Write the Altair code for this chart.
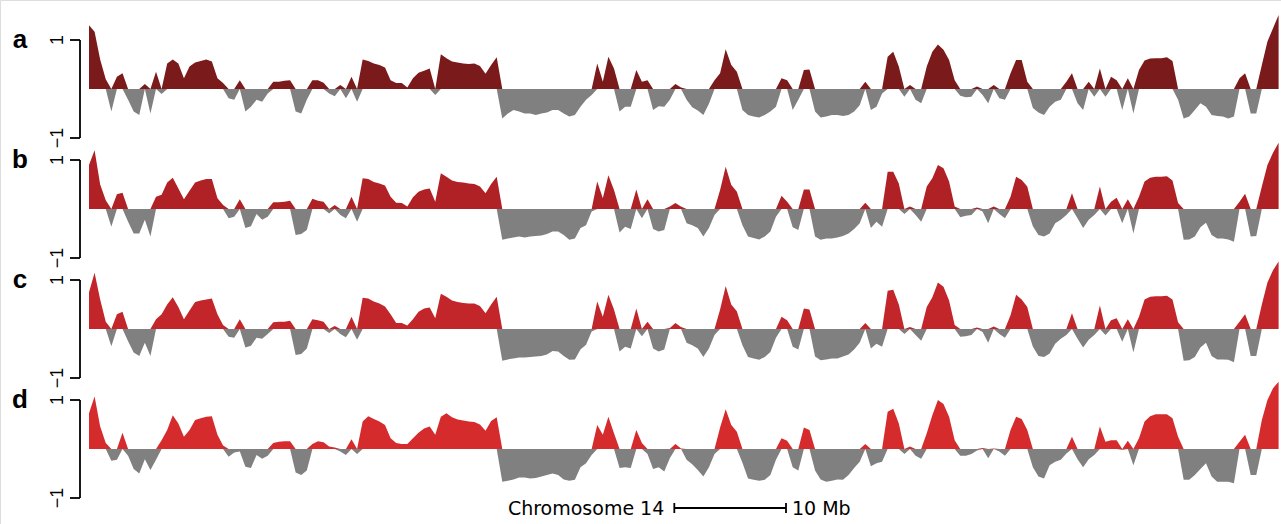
import altair as alt
import pandas as pd

# Genomic bins along chromosome 14 (0.5 Mb apart)
pos_mb = [round(0.5 * i, 1) for i in range(214)]

track_names = ["a", "b", "c", "d"]
track_colors = ["#7b1a1b", "#b02125", "#c2262a", "#d52b2d"]
below_color = "#808080"

vals_a = [
    1.3, 1.17, 0.6, 0.2, -0.46, 0.25, 0.32, -0.22, -0.46, -0.53,
    0.1, -0.5, 0.35, -0.1, 0.52, 0.6, 0.52, 0.22, 0.46, 0.54,
    0.57, 0.6, 0.56, 0.22, 0.12, -0.19, -0.22, 0.18, -0.46, -0.36,
    -0.22, -0.26, -0.09, 0.15, 0.15, 0.17, 0.18, -0.46, -0.5, -0.22,
    0.18, 0.18, 0.13, -0.09, -0.15, 0.08, -0.19, 0.25, -0.26, 0.6,
    0.57, 0.52, 0.49, 0.44, 0.18, 0.12, 0.12, 0.03, 0.22, 0.33,
    0.37, 0.42, -0.12, 0.71, 0.63, 0.56, 0.54, 0.52, 0.51, 0.52,
    0.47, 0.31, 0.49, 0.65, -0.6, -0.5, -0.43, -0.46, -0.5, -0.5,
    -0.53, -0.5, -0.48, -0.43, -0.43, -0.5, -0.56, -0.53, -0.36, -0.22,
    -0.12, 0.52, 0.15, 0.66, 0.42, -0.46, -0.36, -0.36, 0.39, 0.15,
    0.18, -0.43, -0.35, -0.36, -0.22, 0.1, 0.03, -0.22, -0.37, -0.44,
    -0.53, -0.3, 0.18, 0.32, 0.81, 0.49, 0.35, -0.43, -0.53, -0.56,
    -0.58, -0.53, -0.46, -0.36, 0.22, 0.18, -0.43, -0.22, 0.39, 0.4,
    -0.46, -0.58, -0.56, -0.53, -0.53, -0.55, -0.53, -0.46, -0.33, 0.15,
    -0.43, -0.36, -0.09, 0.66, 0.76, 0.46, -0.16, 0.08, -0.22, -0.29,
    0.46, 0.76, 0.91, 0.8, 0.59, 0.18, -0.14, -0.17, -0.16, 0.05,
    -0.12, -0.29, 0.08, -0.19, -0.22, 0.32, 0.59, 0.59, 0.15, -0.39,
    -0.48, -0.53, -0.36, -0.26, -0.22, 0.15, 0.32, -0.29, -0.43, 0.15,
    -0.16, 0.42, -0.16, 0.25, 0.18, -0.43, 0.22, -0.5, 0.39, 0.58,
    0.62, 0.63, 0.63, 0.65, 0.57, -0.22, -0.6, -0.56, -0.43, -0.29,
    -0.36, -0.53, -0.55, -0.56, -0.6, -0.56, 0.22, 0.32, -0.5, -0.5,
    0.49, 0.97, 1.24, 1.51,
]

vals_b = [
    0.9, 1.2, 0.5, 0.18, -0.36, 0.3, 0.33, -0.26, -0.5, -0.5,
    -0.22, -0.56, 0.25, 0.29, 0.54, 0.64, 0.42, 0.2, 0.37, 0.54,
    0.58, 0.61, 0.61, 0.22, 0.08, -0.19, -0.16, 0.2, -0.39, -0.35,
    -0.1, -0.22, -0.16, 0.14, 0.14, 0.15, 0.17, -0.53, -0.51, -0.43,
    0.21, 0.17, 0.15, -0.09, 0.08, -0.12, -0.19, 0.25, -0.26, 0.63,
    0.61, 0.55, 0.52, 0.48, 0.25, 0.13, 0.12, 0.05, 0.24, 0.35,
    0.4, 0.42, 0.15, 0.73, 0.66, 0.58, 0.55, 0.54, 0.52, 0.51,
    0.46, 0.32, 0.51, 0.66, -0.63, -0.6, -0.58, -0.56, -0.58, -0.56,
    -0.55, -0.54, -0.51, -0.46, -0.46, -0.53, -0.63, -0.6, -0.39, -0.33,
    -0.05, 0.56, 0.22, 0.69, 0.39, -0.48, -0.36, -0.41, 0.4, -0.19,
    0.2, -0.41, -0.46, -0.43, 0.05, 0.12, 0.05, -0.29, -0.33, -0.39,
    -0.56, -0.39, -0.12, 0.39, 0.86, 0.49, 0.35, -0.33, -0.56, -0.59,
    -0.62, -0.56, -0.46, -0.16, 0.27, 0.15, -0.37, -0.43, 0.4, 0.4,
    -0.56, -0.63, -0.6, -0.6, -0.58, -0.55, -0.5, -0.41, -0.29, 0.13,
    -0.39, -0.26, -0.36, 0.76, 0.76, 0.52, -0.1, 0.05, -0.12, -0.26,
    0.46, 0.63, 0.9, 0.83, 0.56, 0.05, -0.17, -0.14, -0.12, 0.03,
    -0.05, -0.29, 0.05, -0.1, -0.19, 0.25, 0.66, 0.59, 0.46, -0.35,
    -0.53, -0.56, -0.5, -0.29, -0.22, -0.12, 0.32, -0.19, -0.39, -0.22,
    -0.12, 0.46, -0.14, 0.15, 0.23, -0.29, 0.2, -0.5, 0.25, 0.56,
    0.64, 0.66, 0.66, 0.67, 0.58, 0.12, -0.63, -0.62, -0.56, -0.37,
    -0.28, -0.53, -0.6, -0.6, -0.62, -0.67, 0.15, 0.31, -0.56, -0.55,
    0.46, 0.9, 1.15, 1.35,
]

vals_c = [
    0.75, 1.15, 0.6, 0.15, -0.35, 0.3, 0.35, -0.25, -0.48, -0.55,
    -0.28, -0.55, 0.2, 0.3, 0.5, 0.65, 0.45, 0.2, 0.38, 0.55,
    0.58, 0.6, 0.62, 0.3, 0.08, -0.16, -0.18, 0.2, -0.38, -0.34,
    -0.18, -0.2, -0.1, 0.14, 0.15, 0.15, 0.17, -0.53, -0.51, -0.4,
    0.2, 0.18, 0.15, -0.08, 0.06, -0.1, -0.17, 0.25, -0.22, 0.64,
    0.62, 0.56, 0.52, 0.46, 0.3, 0.12, 0.12, 0.07, 0.2, 0.35,
    0.42, 0.44, 0.22, 0.72, 0.66, 0.58, 0.55, 0.53, 0.52, 0.52,
    0.47, 0.32, 0.5, 0.66, -0.65, -0.62, -0.6, -0.58, -0.58, -0.57,
    -0.56, -0.55, -0.52, -0.45, -0.46, -0.55, -0.63, -0.62, -0.42, -0.32,
    -0.05, 0.56, 0.25, 0.7, 0.4, -0.46, -0.36, -0.4, 0.42, -0.15,
    0.15, -0.4, -0.46, -0.42, 0.02, 0.12, 0.04, -0.28, -0.33, -0.4,
    -0.57, -0.4, -0.12, 0.4, 0.88, 0.5, 0.36, -0.33, -0.57, -0.6,
    -0.63, -0.57, -0.47, -0.18, 0.25, 0.18, -0.36, -0.42, 0.42, 0.4,
    -0.56, -0.64, -0.62, -0.6, -0.6, -0.56, -0.52, -0.42, -0.28, 0.12,
    -0.4, -0.3, -0.36, 0.78, 0.8, 0.5, -0.1, 0.04, -0.12, -0.24,
    0.45, 0.65, 0.95, 0.86, 0.58, 0.08, -0.16, -0.15, -0.12, 0.03,
    -0.06, -0.28, 0.05, -0.1, -0.18, 0.28, 0.7, 0.6, 0.45, -0.36,
    -0.55, -0.57, -0.5, -0.3, -0.2, -0.12, 0.32, -0.2, -0.38, -0.22,
    -0.12, 0.48, -0.12, 0.18, 0.22, -0.26, 0.2, -0.48, 0.25, 0.6,
    0.66, 0.67, 0.67, 0.68, 0.6, 0.14, -0.65, -0.64, -0.57, -0.38,
    -0.28, -0.55, -0.62, -0.62, -0.63, -0.68, 0.15, 0.3, -0.55, -0.55,
    0.5, 0.95, 1.2, 1.38,
]

vals_d = [
    0.73, 1.07, 0.46, 0.12, -0.24, -0.22, 0.33, -0.14, -0.41, -0.5,
    -0.21, -0.43, -0.22, 0.18, 0.39, 0.69, 0.52, 0.25, 0.39, 0.59,
    0.63, 0.66, 0.67, 0.29, 0.07, -0.16, -0.07, -0.05, -0.36, -0.39,
    -0.12, -0.2, -0.14, 0.12, 0.15, 0.16, 0.16, -0.48, -0.53, -0.44,
    0.1, 0.16, 0.14, 0.05, 0.03, -0.05, -0.12, 0.2, -0.1, 0.56,
    0.67, 0.61, 0.56, 0.49, 0.22, 0.12, 0.1, 0.1, 0.22, 0.33,
    0.42, 0.46, 0.29, 0.66, 0.73, 0.65, 0.6, 0.58, 0.56, 0.55,
    0.5, 0.37, 0.57, 0.65, -0.67, -0.65, -0.62, -0.58, -0.58, -0.6,
    -0.59, -0.56, -0.53, -0.5, -0.53, -0.62, -0.65, -0.63, -0.37, -0.29,
    -0.12, 0.49, 0.29, 0.66, 0.32, -0.39, -0.37, -0.39, 0.39, 0.12,
    -0.1, -0.41, -0.37, -0.46, -0.19, 0.1, 0.01, -0.22, -0.31, -0.43,
    -0.56, -0.37, -0.1, 0.44, 0.81, 0.49, 0.35, -0.28, -0.6, -0.63,
    -0.65, -0.63, -0.53, -0.22, 0.22, 0.17, -0.37, -0.44, 0.44, 0.39,
    -0.44, -0.62, -0.67, -0.65, -0.62, -0.63, -0.53, -0.39, -0.26, 0.1,
    -0.35, -0.29, -0.26, 0.76, 0.82, 0.52, -0.1, 0.05, -0.14, -0.2,
    0.32, 0.69, 1.0, 0.92, 0.66, 0.18, -0.14, -0.14, -0.1, -0.03,
    0.02, -0.19, 0.01, -0.05, -0.14, 0.39, 0.66, 0.61, 0.39, -0.37,
    -0.56, -0.6, -0.33, -0.26, -0.22, -0.09, 0.25, -0.21, -0.37, -0.21,
    -0.12, 0.46, 0.15, 0.18, 0.18, -0.02, 0.17, -0.33, 0.22, 0.56,
    0.67, 0.71, 0.71, 0.71, 0.63, 0.25, -0.63, -0.63, -0.53, -0.41,
    -0.29, -0.56, -0.67, -0.67, -0.67, -0.7, 0.15, 0.29, -0.53, -0.53,
    0.59, 1.0, 1.24, 1.37,
]

axis_ticks = [-1, 1]
scale_bar_start_mb = 52.4
scale_bar_len_mb = 10
chrom_label = "Chromosome 14"
scale_label = "10 Mb"

# ---- layout: one canvas, tracks stacked by offsetting each on a shared y scale
W, H = 1281, 524
PX_PER_MB = 11.17
X0_PX = 89.0          # pixel where position 0 Mb sits
UNIT_PX = 49.0        # pixels per signal unit
BASE0_PX = 89.0       # baseline of the first track
TRACK_GAP = 120.0 / UNIT_PX

x_scale = alt.Scale(domain=[-X0_PX / PX_PER_MB, (W - X0_PX) / PX_PER_MB], nice=False, zero=False)
y_scale = alt.Scale(domain=[-(H - BASE0_PX) / UNIT_PX, BASE0_PX / UNIT_PX], nice=False, zero=False)

rows, axis_rows, tick_rows = [], [], []
for k, (name, vals) in enumerate(zip(track_names, [vals_a, vals_b, vals_c, vals_d])):
    off = -k * TRACK_GAP
    for mb, v in zip(pos_mb, vals):
        rows.append({"track": name, "mb": mb, "base": off,
                     "up": off + max(v, 0.0), "down": off + min(v, 0.0)})
    axis_rows.append({"track": name, "lo": off + axis_ticks[0], "hi": off + axis_ticks[-1]})
    for t in axis_ticks:
        tick_rows.append({"track": name, "g": off + t,
                          "label": ("\u2212" + str(abs(t))) if t < 0 else str(t)})

signal = pd.DataFrame(rows)
axes_df = pd.DataFrame(axis_rows)
ticks_df = pd.DataFrame(tick_rows)
bar_df = pd.DataFrame([{"start": scale_bar_start_mb,
                        "end": scale_bar_start_mb + scale_bar_len_mb,
                        "left": chrom_label, "right": scale_label}])

X = lambda f: alt.X(f, type="quantitative", scale=x_scale, axis=None)
Y = lambda f: alt.Y(f, type="quantitative", scale=y_scale, axis=None)

below = alt.Chart(signal).mark_area(color=below_color, interpolate="linear").encode(
    x=X("mb"), y=Y("down"), y2="base", detail="track:N"
)
above = alt.Chart(signal).mark_area(interpolate="linear").encode(
    x=X("mb"), y=Y("up"), y2="base",
    color=alt.Color("track:N", scale=alt.Scale(domain=track_names, range=track_colors), legend=None),
)

axis_line = alt.Chart(axes_df).mark_rule(color="black", strokeWidth=1.8).encode(
    x=alt.value(80), y=Y("lo"), y2="hi"
)
axis_ticks_m = alt.Chart(ticks_df).mark_rule(color="black", strokeWidth=1.8).encode(
    x=alt.value(70), x2=alt.value(80), y=Y("g")
)
axis_labels = alt.Chart(ticks_df).mark_text(
    angle=270, font="Liberation Sans", fontSize=18, align="center", baseline="alphabetic", color="black"
).encode(x=alt.value(63), y=Y("g"), text="label:N")

track_labels = alt.Chart(axes_df).mark_text(
    font="Liberation Sans", fontWeight="bold", fontSize=26, align="center",
    baseline="alphabetic", dy=8, color="black"
).encode(x=alt.value(20), y=Y("hi"), text="track:N")

bar_line = alt.Chart(bar_df).mark_rule(color="black", strokeWidth=1.8).encode(
    x=X("start"), x2="end", y=alt.value(508)
)
bar_left = alt.Chart(bar_df).mark_rule(color="black", strokeWidth=1.8).encode(
    x=X("start"), y=alt.value(503), y2=alt.value(513)
)
bar_right = alt.Chart(bar_df).mark_rule(color="black", strokeWidth=1.8).encode(
    x=X("end"), y=alt.value(503), y2=alt.value(513)
)
bar_text_left = alt.Chart(bar_df).mark_text(
    font="DejaVu Sans", fontSize=19, align="right", baseline="alphabetic", dx=-10, color="black"
).encode(x=X("start"), y=alt.value(515), text="left:N")
bar_text_right = alt.Chart(bar_df).mark_text(
    font="DejaVu Sans", fontSize=19, align="left", baseline="alphabetic", dx=6, color="black"
).encode(x=X("end"), y=alt.value(515), text="right:N")

chart = alt.layer(
    below, above, axis_line, axis_ticks_m, axis_labels, track_labels,
    bar_line, bar_left, bar_right, bar_text_left, bar_text_right,
).properties(
    width=W, height=H, padding=0, autosize=alt.AutoSizeParams(type="none"),
).configure_view(strokeWidth=0).configure(background="white")

chart.save("out.html", embed_options={"renderer": "svg", "actions": False})
